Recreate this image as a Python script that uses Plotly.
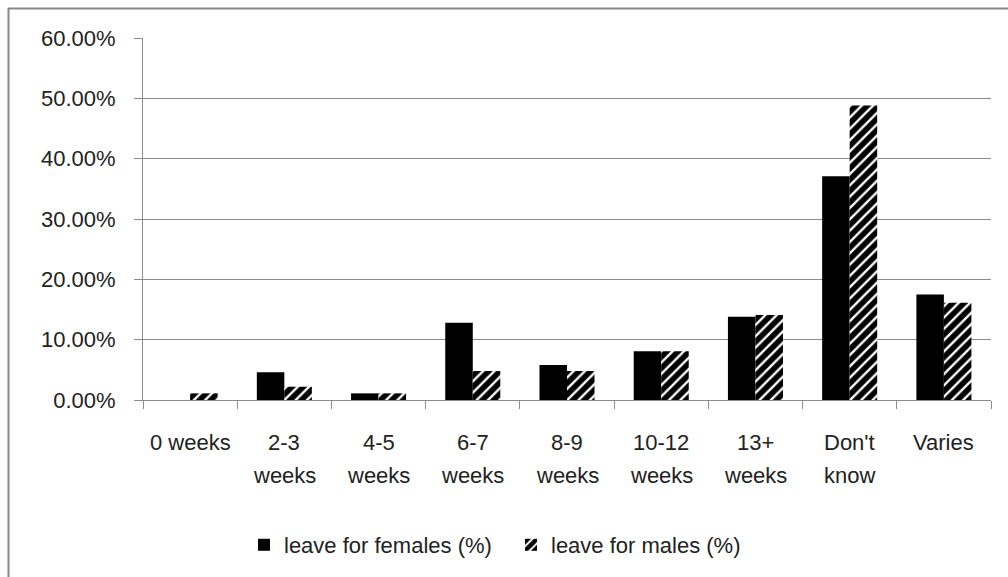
import plotly.graph_objects as go

# Survey results: length of leave offered, by gender
categories = ["0 weeks", "2-3 weeks", "4-5 weeks", "6-7 weeks", "8-9 weeks",
              "10-12 weeks", "13+ weeks", "Don't know", "Varies"]
label_line1 = ["0 weeks", "2-3", "4-5", "6-7", "8-9", "10-12", "13+", "Don't", "Varies"]
label_line2 = ["", "weeks", "weeks", "weeks", "weeks", "weeks", "weeks", "know", ""]
females = [0.0, 4.6, 1.1, 12.8, 5.8, 8.1, 13.8, 37.1, 17.5]
males = [1.1, 2.2, 1.1, 4.8, 4.8, 8.1, 14.1, 48.8, 16.1]

W, H = 1008, 577
L, R, T, B = 143, 17, 38, 176
pw, ph = W - L - R, H - T - B

FONT = "Liberation Sans, Arial, sans-serif"
TXT = "#222222"
GRID = "#8c8c8c"


def px_x(x):
    return (x - L) / pw


def px_y(y):
    return (H - B - y) / ph


fig = go.Figure()
fig.add_trace(go.Bar(
    x=categories, y=females, name="leave for females (%)",
    marker=dict(color="black", line=dict(width=0)),
))
fig.add_trace(go.Bar(
    x=categories, y=males, name="leave for males (%)",
    marker=dict(color="white", line=dict(width=0),
                pattern=dict(shape="/", fgcolor="black", bgcolor="white",
                             fgopacity=1, size=8, solidity=0.7)),
))

annotations = []
for cat, l1, l2 in zip(categories, label_line1, label_line2):
    annotations.append(dict(x=cat, xref="x", y=px_y(444), yref="paper",
                            text=l1, showarrow=False, yanchor="middle",
                            font=dict(family=FONT, size=22, color=TXT)))
    if l2:
        annotations.append(dict(x=cat, xref="x", y=px_y(477), yref="paper",
                                text=l2, showarrow=False, yanchor="middle",
                                font=dict(family=FONT, size=22, color=TXT)))

shapes = [
    # outer chart frame (top and left edges)
    dict(type="line", xref="paper", yref="paper",
         x0=px_x(8), x1=px_x(W + 5), y0=px_y(8.5), y1=px_y(8.5),
         line=dict(color="#888888", width=2)),
    dict(type="line", xref="paper", yref="paper",
         x0=px_x(8.5), x1=px_x(8.5), y0=px_y(8), y1=px_y(H + 5),
         line=dict(color="#888888", width=2)),
]

fig.update_layout(
    width=W, height=H,
    margin=dict(l=L, r=R, t=T, b=B),
    paper_bgcolor="white", plot_bgcolor="white",
    barmode="group", bargap=0.416, bargroupgap=0,
    font=dict(family=FONT, size=22, color=TXT),
    showlegend=True,
    legend=dict(orientation="h", x=px_x(244), xanchor="left",
                y=px_y(545), yanchor="middle",
                entrywidth=222, entrywidthmode="pixels",
                font=dict(family=FONT, size=22, color=TXT),
                bgcolor="rgba(0,0,0,0)"),
    annotations=annotations,
    shapes=shapes,
)
fig.update_xaxes(
    type="category", showticklabels=False, tickson="boundaries",
    ticks="outside", ticklen=8, tickcolor=GRID,
    showline=True, linecolor=GRID, linewidth=1, showgrid=False,
    zeroline=False,
)
fig.update_yaxes(
    range=[0, 60], dtick=10, tickformat=".2f", ticksuffix="%",
    ticks="outside", ticklen=8, tickcolor=GRID, ticklabelstandoff=14,
    showline=True, linecolor=GRID, linewidth=1,
    showgrid=True, gridcolor=GRID, gridwidth=1, zeroline=False,
    tickfont=dict(family=FONT, size=22, color=TXT),
)

fig.write_html("out.html")
